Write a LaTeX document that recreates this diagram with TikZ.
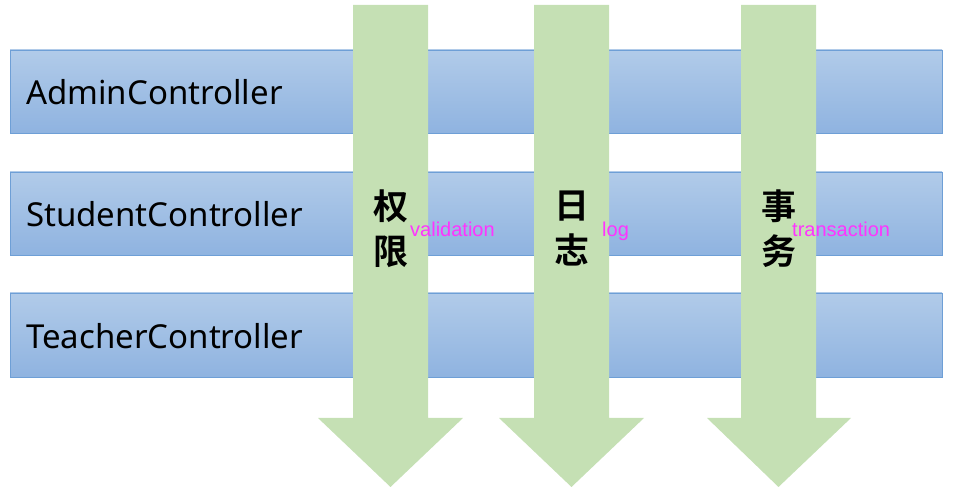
\documentclass[tikz,border=0pt]{standalone}
\usepackage{fontspec}
\setmainfont{Noto Sans}
\newfontfamily\cjkfont{Noto Sans CJK SC}[BoldFont=* Bold]
\newfontfamily\labelfont{Liberation Sans}
\definecolor{bartop}{HTML}{B1CBE9}
\definecolor{barbot}{HTML}{8FB3E0}
\definecolor{barline}{HTML}{6E9FD6}
\definecolor{arrowgreen}{HTML}{C5E0B4}
\definecolor{tagmagenta}{HTML}{FF33FF}
\tikzset{
  x=1pt, y=1pt,
  barshape/.style={top color=bartop, bottom color=barbot, draw=barline, line width=0.8pt},
  bartext/.style={anchor=west, inner sep=0pt, font=\fontsize{33}{33}\selectfont},
  downarrow/.style={fill=arrowgreen, draw=none},
  cjktext/.style={inner sep=0pt, font=\cjkfont\bfseries\fontsize{35}{45}\selectfont, align=center},
  tagtext/.style={anchor=base west, inner sep=0pt, text=tagmagenta, font=\labelfont\fontsize{20}{20}\selectfont}
}
\begin{document}
\begin{tikzpicture}
\useasboundingbox (0,0) rectangle (954,492);
% bars
\path[barshape] (10,442) rectangle (942,359);
\path[barshape] (10,320) rectangle (942,237);
\path[barshape] (10,199) rectangle (942,115);
\node[bartext] (admin) at (26,399.5) {AdminController};
\node[bartext] (student) at (26,277.5) {StudentController};
\node[bartext] (teacher) at (26,156) {TeacherController};
% arrows
\path[downarrow] (353,487) -- (428,487) -- (428,74) -- (463,74) -- (390.5,5) -- (318,74) -- (353,74) -- cycle;
\path[downarrow] (534,487) -- (609,487) -- (609,74) -- (644,74) -- (571.5,5) -- (499,74) -- (534,74) -- cycle;
\path[downarrow] (741,487) -- (816,487) -- (816,74) -- (851,74) -- (778.5,5) -- (707,74) -- (741,74) -- cycle;
% labels
\node[cjktext] (perm) at (390.5,263) {权\\限};
\node[cjktext] (logz) at (571.5,263) {日\\志};
\node[cjktext] (tx) at (778.5,263) {事\\务};
\node[tagtext] (valid) at (410,255.5) {validation};
\node[tagtext] (logl) at (602,255.5) {log};
\node[tagtext] (trans) at (792,255.5) {transaction};
\end{tikzpicture}
\end{document}
